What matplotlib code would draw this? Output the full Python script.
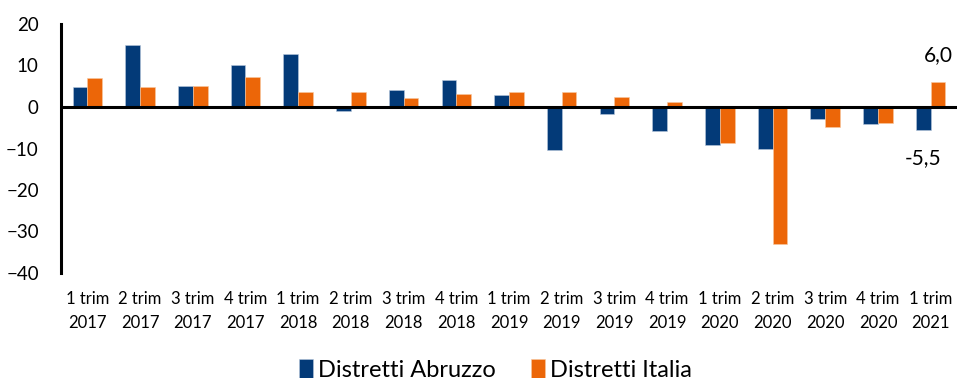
import matplotlib.pyplot as plt
import numpy as np

plt.rcParams['font.family'] = ['Lato', 'DejaVu Sans']

periodi = ["1 trim\n2017", "2 trim\n2017", "3 trim\n2017", "4 trim\n2017",
           "1 trim\n2018", "2 trim\n2018", "3 trim\n2018", "4 trim\n2018",
           "1 trim\n2019", "2 trim\n2019", "3 trim\n2019", "4 trim\n2019",
           "1 trim\n2020", "2 trim\n2020", "3 trim\n2020", "4 trim\n2020",
           "1 trim\n2021"]
abruzzo = [4.8, 15.0, 5.1, 10.2, 12.8, -1.0, 4.1, 6.4,
           2.8, -10.4, -1.6, -5.7, -9.2, -10.1, -2.8, -4.1, -5.5]
italia = [7.0, 4.8, 5.1, 7.3, 3.5, 3.5, 2.2, 3.1,
          3.5, 3.5, 2.3, 1.1, -8.6, -33.1, -4.8, -3.8, 6.0]

blu = "#033A78"
arancio = "#EC6608"

fig = plt.figure(figsize=(9.57, 3.78), dpi=100)
ax = fig.add_axes([61 / 957, 1 - 273 / 378, 896 / 957, 249 / 378])

x = np.arange(len(periodi))
w = 0.28
ax.bar(x - w / 2, abruzzo, w, color=blu, edgecolor="#b8c8dc", linewidth=0.4, label="Distretti Abruzzo")
ax.bar(x + w / 2, italia, w, color=arancio, edgecolor="#f8c8a0", linewidth=0.4, label="Distretti Italia")

ax.set_xlim(-0.5, len(periodi) - 0.5)
ax.set_ylim(-40, 20)
ax.set_yticks([-40, -30, -20, -10, 0, 10, 20])
ax.axhline(0, color="black", linewidth=2.2)

for s in ["top", "right", "bottom"]:
    ax.spines[s].set_visible(False)
ax.spines["left"].set_linewidth(2.2)
ax.tick_params(axis="y", length=0, labelsize=13.5, pad=16)
ax.tick_params(axis="x", length=0, labelsize=12, pad=13)
ax.set_xticks(x)
ax.set_xticklabels(periodi, linespacing=1.6)

# etichette ultimo trimestre
ax.annotate("6,0", (x[-1] + w / 2, italia[-1]), xytext=(0, 12), textcoords="offset points",
            ha="center", va="bottom", fontsize=15)
ax.annotate("-5,5", (x[-1] - w / 2, abruzzo[-1]), xytext=(0, -13), textcoords="offset points",
            ha="center", va="top", fontsize=15)

ax.legend(loc="center", bbox_to_anchor=(0.485, -0.39), ncol=2, frameon=False,
          fontsize=17, handlelength=0.6, handleheight=0.8, handletextpad=0.2, columnspacing=1.5)

fig.savefig("out.png", dpi=100)
